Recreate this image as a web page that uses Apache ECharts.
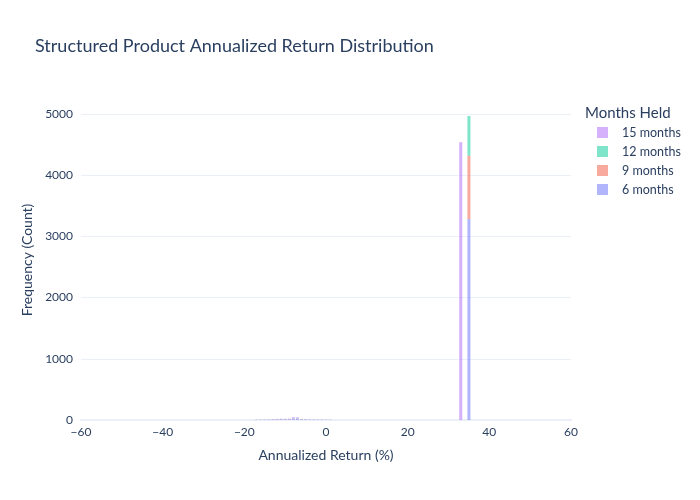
<!DOCTYPE html>
<html>
<head>
    <meta charset="utf-8">
    <title>Structured Product Annualized Return Distribution</title>
    <script src="https://cdn.jsdelivr.net/npm/echarts@6/dist/echarts.min.js"></script>
</head>
<body style="margin:0">
<div id="container" style="width:700px;height:500px"></div>
<script type="text/javascript">
// bin centers (annualized return %) and counts per holding period
var bins = [-17, -16, -15, -14, -13, -12, -11, -10, -9, -8, -7, -6, -5, -4, -3, -2, -1, 0, 1, 33, 35];
var count6  = [2, 3, 3, 4, 5, 6, 8, 7, 8, 16, 15, 6, 5, 4, 4, 4, 3, 3, 2, 0, 3284];
var count9  = [1, 1, 1, 1, 2, 2, 2, 2, 3, 5, 5, 2, 2, 1, 1, 1, 1, 1, 1, 0, 1035];
var count12 = [1, 1, 1, 1, 1, 2, 2, 2, 2, 5, 5, 2, 1, 1, 1, 1, 1, 1, 0, 0, 648];
var count15 = [2, 2, 3, 5, 6, 8, 9, 9, 10, 20, 18, 7, 6, 5, 4, 3, 3, 2, 2, 4537, 0];
var seriesNames = ['6 months', '9 months', '12 months', '15 months'];
var seriesColors = ['#636efa', '#EF553B', '#00cc96', '#ab63fa'];
var legendOrder = ['15 months', '12 months', '9 months', '6 months'];
var xTicks = [-60, -40, -20, 0, 20, 40, 60];
var xMin = -60, xMax = 60;

var textColor = '#2a3f5f';
var gridColor = '#ebf0f8';
var font = 'Lato, "Open Sans", sans-serif';

// x axis: one category per 1% step, so the bins sit on their own scale position
var xCats = [];
for (var v = xMin; v <= xMax; v++) xCats.push(String(v));

function fullSeries(counts) {
    var out = [];
    for (var i = 0; i < xCats.length; i++) out.push(0);
    for (var j = 0; j < bins.length; j++) {
        out[xCats.indexOf(String(bins[j]))] = counts[j];
    }
    return out;
}

var allCounts = [count6, count9, count12, count15];
var series = [];
for (var s = 0; s < seriesNames.length; s++) {
    series.push({
        name: seriesNames[s],
        type: 'bar',
        stack: 'total',
        barWidth: 3,
        data: fullSeries(allCounts[s]),
        itemStyle: { color: seriesColors[s], opacity: 0.5 }
    });
}

var myChart = echarts.init(document.getElementById('container'));
var option = {
    backgroundColor: '#fff',
    animation: false,
    textStyle: { fontFamily: font },
    title: [{
        text: 'Structured Product Annualized Return Distribution',
        left: 30, top: 32,
        textStyle: { fontFamily: font, fontSize: 18, fontWeight: 'normal', color: textColor }
    }, {
        text: 'Months Held',
        left: 580, top: 101,
        textStyle: { fontFamily: font, fontSize: 15, fontWeight: 'normal', color: textColor }
    }],
    legend: {
        data: legendOrder,
        orient: 'vertical',
        left: 592, top: 121,
        icon: 'rect',
        itemWidth: 11, itemHeight: 11, itemGap: 6,
        textStyle: { fontFamily: font, fontSize: 12.5, color: textColor, padding: [0, 0, 0, 9] }
    },
    grid: { left: 81, right: 129, top: 100, bottom: 80 },
    xAxis: {
        type: 'category',
        data: xCats,
        boundaryGap: false,
        name: 'Annualized Return (%)',
        nameLocation: 'middle', nameGap: 28,
        nameTextStyle: { fontFamily: font, fontSize: 14, color: textColor },
        axisLine: { show: true, lineStyle: { color: gridColor, width: 2 } },
        axisTick: { show: false },
        splitLine: { show: false },
        axisLabel: {
            color: textColor, fontSize: 12, margin: 6,
            interval: function (idx, val) { return xTicks.indexOf(Number(val)) >= 0; },
            formatter: function (val) { return String(val).replace('-', '\u2212'); }
        }
    },
    yAxis: {
        type: 'value',
        min: 0, max: 5229, interval: 1000,
        name: 'Frequency (Count)',
        nameLocation: 'middle', nameGap: 42,
        nameTextStyle: { fontFamily: font, fontSize: 14, color: textColor },
        axisLine: { show: false },
        axisTick: { show: false },
        splitLine: {
            lineStyle: {
                color: [gridColor, gridColor, gridColor, gridColor, gridColor, gridColor, 'rgba(0,0,0,0)'],
                width: 1
            }
        },
        axisLabel: {
            color: textColor, fontSize: 12, margin: 8, showMaxLabel: false,
            formatter: function (v) { return String(v); }
        }
    },
    series: series
};
myChart.setOption(option);
</script>
</body>
</html>
